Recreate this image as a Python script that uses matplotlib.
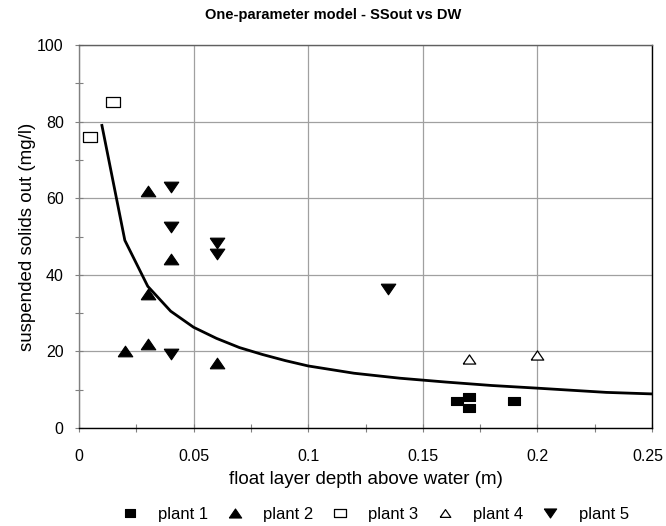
import matplotlib
matplotlib.use("Agg")
import matplotlib.pyplot as plt
from matplotlib.ticker import MultipleLocator
from matplotlib.transforms import ScaledTranslation

plt.rcParams['font.family'] = ['Liberation Sans', 'DejaVu Sans']

# data
p1_x = [0.165, 0.17, 0.17, 0.19]
p1_y = [7.0, 8.0, 5.3, 7.0]
p2_x = [0.03, 0.04, 0.03, 0.02, 0.03, 0.06]
p2_y = [62, 44, 35, 20, 22, 17]
p3_x = [0.005, 0.015]
p3_y = [76, 85]
p4_x = [0.17, 0.20]
p4_y = [18, 19]
p5_x = [0.04, 0.04, 0.06, 0.06, 0.04, 0.135]
p5_y = [63, 52.5, 48.3, 45.4, 19.3, 36.3]
model_x = [0.01, 0.02, 0.03, 0.04, 0.05, 0.06, 0.07, 0.08, 0.09, 0.10,
           0.12, 0.14, 0.16, 0.18, 0.20, 0.23, 0.25]
model_y = [79, 49, 37, 30.5, 26.3, 23.4, 21.0, 19.2, 17.6, 16.2,
           14.3, 13.0, 12.0, 11.1, 10.4, 9.3, 8.9]
labels = ['plant 1', 'plant 2', 'plant 3', 'plant 4', 'plant 5']
xticks = [0, 0.05, 0.1, 0.15, 0.2, 0.25]
xtick_labels = ['0', '0.05', '0.1', '0.15', '0.2', '0.25']

W, H = 666, 526
fig = plt.figure(figsize=(W / 100, H / 100), dpi=100)
L, R, T, B = 79, 652, 45, 428
ax = fig.add_axes([L / W, 1 - B / H, (R - L) / W, (B - T) / H])

sq = [(-1, -0.75), (1, -0.75), (1, 0.75), (-1, 0.75), (-1, -0.75)]
tri_up = [(-1, -0.73), (1, -0.73), (0, 0.73), (-1, -0.73)]
tri_dn = [(-1, 0.73), (1, 0.73), (0, -0.73), (-1, 0.73)]

ax.plot(model_x, model_y, color='black', lw=2.0, zorder=3)
h1, = ax.plot(p1_x, p1_y, ls='none', marker=sq, ms=8, mfc='black', mec='black', mew=0.8, zorder=4)
h2, = ax.plot(p2_x, p2_y, ls='none', marker=tri_up, ms=10.5, mfc='black', mec='black', mew=0.8, zorder=4)
h3, = ax.plot(p3_x, p3_y, ls='none', marker=sq, ms=9.5, mfc='white', mec='black', mew=0.9, zorder=4)
h4, = ax.plot(p4_x, p4_y, ls='none', marker=tri_up, ms=9, mfc='white', mec='black', mew=0.9, zorder=4)
h5, = ax.plot(p5_x, p5_y, ls='none', marker=tri_dn, ms=10.5, mfc='black', mec='black', mew=0.8, zorder=4)

ax.set_xlim(0, 0.25)
ax.set_ylim(0, 100)
ax.xaxis.set_minor_locator(MultipleLocator(0.025))
ax.yaxis.set_major_locator(MultipleLocator(20))
ax.yaxis.set_minor_locator(MultipleLocator(10))
ax.set_xticks(xticks)
ax.set_xticklabels(xtick_labels)
ax.grid(True, which='major', color='#a0a0a0', lw=0.9)
ax.set_axisbelow(True)

for side, c in [('left', '#808080'), ('top', '#606060'), ('right', 'black'), ('bottom', 'black')]:
    ax.spines[side].set_color(c)
    ax.spines[side].set_linewidth(1.0)

ax.tick_params(which='both', direction='inout', color='#808080', width=0.8, length=6)
ax.tick_params(axis='x', which='major', labelsize=11.5, pad=12)
ax.tick_params(axis='y', which='major', labelsize=11.5, pad=8)
ax.tick_params(right=False, top=False)

# keep last x tick label inside the figure
lab = ax.get_xticklabels()[-1]
lab.set_transform(lab.get_transform() + ScaledTranslation(-4 / 100, 0, fig.dpi_scale_trans))

ax.set_xlabel('float layer depth above water (m)', fontsize=13.5)
ax.xaxis.set_label_coords(0.5, -0.112)
ax.set_ylabel('suspended solids out (mg/l)', fontsize=13.5)
ax.yaxis.set_label_coords(-0.075, 0.5)

fig.text(333 / W, 1 - 15 / H, 'One-parameter model - SSout vs DW', ha='center', va='center',
         fontsize=10.5, fontweight='bold')

fig.legend([h1, h2, h3, h4, h5], labels, loc='center', bbox_to_anchor=(375 / W, 1 - 514 / H),
           ncol=5, frameon=False, fontsize=12, markerscale=0.85, handlelength=1.0,
           handletextpad=1.2, columnspacing=1.1)

fig.savefig('out.png', dpi=100)
